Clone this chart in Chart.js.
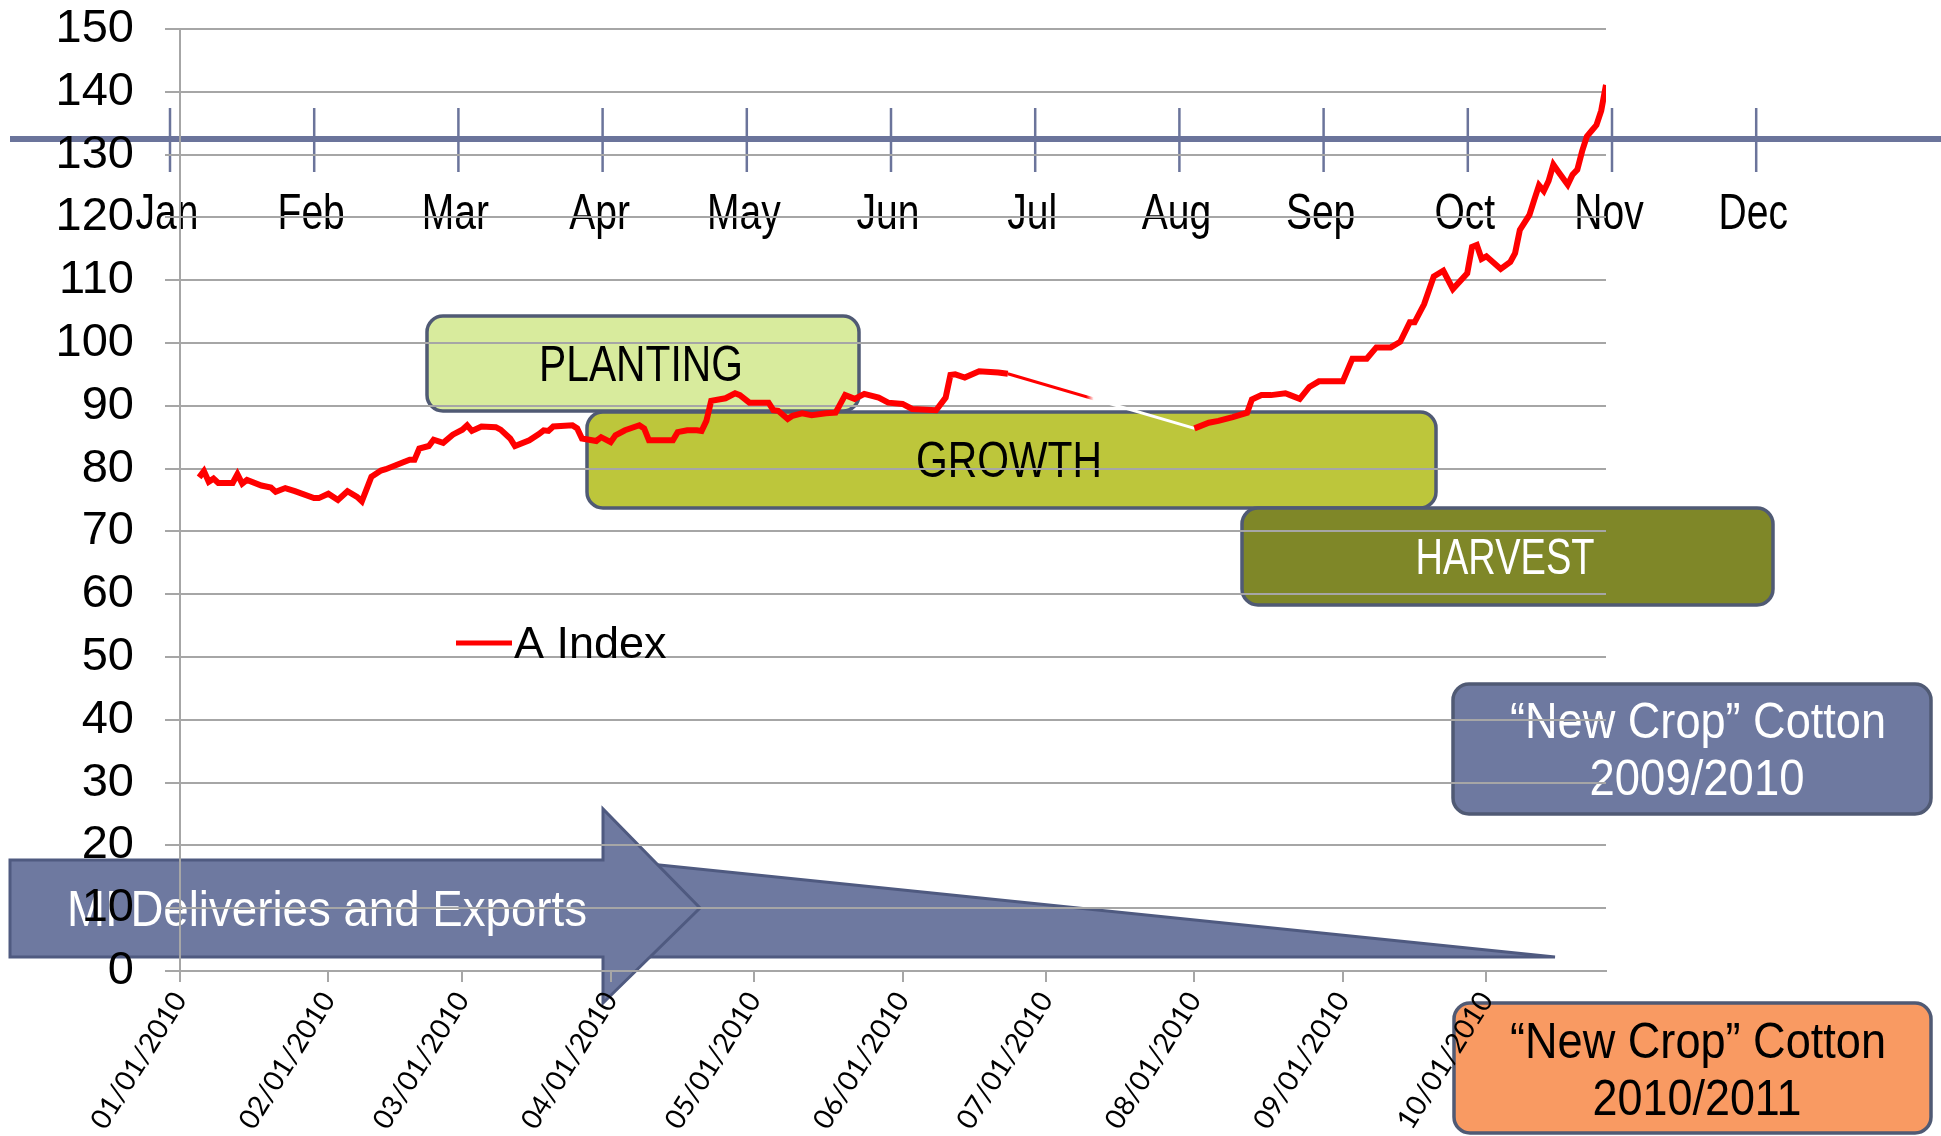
<!DOCTYPE html>
<html>
<head>
<meta charset="utf-8">
<script src="https://cdn.jsdelivr.net/npm/chart.js@4.4.1/dist/chart.umd.min.js"></script>
<style>
  html, body { margin: 0; padding: 0; background: #fff; }
  #wrap { width: 1941px; height: 1136px; position: relative; }
</style>
</head>
<body>
<div id="wrap"><canvas id="myChart"></canvas></div>
<script>
// A Index, x = days counted from 01/01/2010
const days = [
  4, 5, 6, 7, 8, 11, 12, 13, 14, 17, 19, 20, 22, 24, 28, 29, 31, 33, 35, 37,
  38, 40, 42, 43, 46, 48, 49, 50, 52, 53, 55, 57, 59, 60, 61, 63, 66, 67, 69, 70,
  73, 75, 76, 77, 78, 82, 83, 84, 87, 88, 90, 91, 93, 96, 97, 98, 103, 104, 106, 108,
  109, 110, 111, 114, 116, 117, 119, 123, 124, 125, 127, 128, 130, 132, 135, 137, 138, 139, 141, 143,
  146, 148, 151, 153, 158, 160, 161, 162, 164, 167, 171, 173,
  212, 215, 217, 220, 223, 224, 226, 228, 231, 232, 234, 236, 238, 243, 245, 248, 250, 253,
  255, 257, 258, 260, 262, 264, 266, 269, 270, 271, 272, 273, 276, 278, 279, 280, 282, 283,
  284, 285, 286, 287, 288, 290, 291, 292, 293, 294, 295, 296, 297, 298
];
const aIndex = [
  78.6, 79.6, 77.9, 78.4, 77.7, 77.7, 79.1, 77.6, 78.2, 77.3, 77.0, 76.3, 76.9, 76.4, 75.3, 75.3, 76.0, 75.0, 76.4, 75.5,
  74.8, 78.7, 79.7, 79.9, 80.8, 81.4, 81.4, 83.2, 83.6, 84.6, 84.1, 85.4, 86.2, 86.9, 86.0, 86.7, 86.6, 86.2, 84.8, 83.6,
  84.5, 85.5, 86.1, 86.0, 86.7, 86.9, 86.4, 84.8, 84.4, 85.0, 84.2, 85.3, 86.1, 86.9, 86.4, 84.5, 84.5, 85.8, 86.1, 86.1,
  86.0, 87.6, 90.8, 91.2, 92.0, 91.7, 90.5, 90.5, 89.3, 89.2, 87.9, 88.4, 88.8, 88.5, 88.8, 88.9, 90.3, 91.7, 91.1, 91.9,
  91.3, 90.5, 90.3, 89.5, 89.3, 91.3, 94.9, 95.0, 94.5, 95.5, 95.3, 95.1,
  86.4, 87.3, 87.6, 88.2, 88.9, 91.0, 91.7, 91.7, 92.0, 91.7, 91.1, 93.0, 93.9, 93.9, 97.5, 97.5, 99.3, 99.3,
  100.2, 103.3, 103.3, 106.2, 110.6, 111.5, 108.6, 111.1, 115.3, 115.6, 113.4, 113.8, 111.8, 112.9, 114.3, 118.0, 120.4, 122.8,
  125.1, 124.2, 125.8, 128.4, 127.3, 125.2, 126.8, 127.6, 130.5, 132.9, 133.8, 134.7, 137.0, 141.1
];

const tickDays = [0, 31, 59, 90, 120, 151, 181, 212, 243, 273];
const tickLabels = ['01/01/2010', '02/01/2010', '03/01/2010', '04/01/2010', '05/01/2010',
  '06/01/2010', '07/01/2010', '08/01/2010', '09/01/2010', '10/01/2010'];

const timelineMonths = ['Jan', 'Feb', 'Mar', 'Apr', 'May', 'Jun', 'Jul', 'Aug', 'Sep', 'Oct', 'Nov', 'Dec'];

const SANS = '"Liberation Sans", Arial, sans-serif';
const BORDER = '#505a74';
const SLATE = '#6e79a0';

const canvas = document.getElementById('myChart');
const ctx2d = canvas.getContext('2d');

// text squeezed to the width it has in the picture
function fitText(ctx, text, cx, baseline, width, font, color) {
  ctx.save();
  ctx.font = font;
  ctx.fillStyle = color;
  ctx.textAlign = 'center';
  ctx.textBaseline = 'alphabetic';
  const w = ctx.measureText(text).width;
  ctx.translate(cx, baseline);
  ctx.scale(width / w, 1);
  ctx.fillText(text, 0, 0);
  ctx.restore();
}

function roundBox(ctx, x1, y1, x2, y2, fill) {
  const r = 16;
  ctx.beginPath();
  ctx.moveTo(x1 + r, y1);
  ctx.arcTo(x2, y1, x2, y2, r);
  ctx.arcTo(x2, y2, x1, y2, r);
  ctx.arcTo(x1, y2, x1, y1, r);
  ctx.arcTo(x1, y1, x2, y1, r);
  ctx.closePath();
  ctx.fillStyle = fill;
  ctx.fill();
  ctx.lineWidth = 3.5;
  ctx.strokeStyle = BORDER;
  ctx.stroke();
}

function poly(ctx, pts, fill, stroke) {
  ctx.beginPath();
  pts.forEach((p, i) => i ? ctx.lineTo(p[0], p[1]) : ctx.moveTo(p[0], p[1]));
  ctx.closePath();
  ctx.fillStyle = fill;
  ctx.fill();
  ctx.lineWidth = 3;
  ctx.strokeStyle = stroke;
  ctx.lineJoin = 'miter';
  ctx.stroke();
}

const overlays = {
  id: 'overlays',
  beforeDraw(chart) {
    const ctx = chart.ctx;
    ctx.save();
    ctx.fillStyle = '#fff';
    ctx.fillRect(0, 0, chart.width, chart.height);

    // crop phases
    roundBox(ctx, 427, 316, 859, 411, '#d8eb9d');
    roundBox(ctx, 587, 412, 1436, 508, '#bdc63b');
    roundBox(ctx, 1242, 508, 1773, 605, '#7f8728');
    const big = '50px ' + SANS;
    fitText(ctx, 'PLANTING', 641, 381, 204, big, '#000');
    fitText(ctx, 'GROWTH', 1009, 477, 186, big, '#000');
    fitText(ctx, 'HARVEST', 1505, 574, 179, big, '#fff');

    // crop year boxes
    roundBox(ctx, 1453, 684, 1931, 814, SLATE);
    fitText(ctx, '\u201cNew Crop\u201d Cotton', 1698, 738, 376, big, '#fff');
    fitText(ctx, '2009/2010', 1697, 795, 215, big, '#fff');
    roundBox(ctx, 1454, 1003, 1931, 1133, '#f99a62');
    fitText(ctx, '\u201cNew Crop\u201d Cotton', 1698, 1058, 376, big, '#000');
    fitText(ctx, '2010/2011', 1697, 1115, 209, big, '#000');

    // deliveries arrow
    poly(ctx, [[640, 863], [1555, 957], [640, 957]], SLATE, '#4f5a80');
    poly(ctx, [[10, 860], [603, 860], [603, 809], [700, 908], [603, 1003], [603, 957], [10, 957]], SLATE, '#4f5a80');
    fitText(ctx, 'MI Deliveries and Exports', 327, 926, 520, big, '#fff');

    // month timeline
    ctx.fillStyle = '#6b749b';
    ctx.fillRect(10, 136, 1931, 6);
    ctx.strokeStyle = '#6b749b';
    ctx.lineWidth = 2.5;
    timelineMonths.forEach((m, i) => {
      const x = 170 + i * 144.2;
      ctx.beginPath();
      ctx.moveTo(x, 108);
      ctx.lineTo(x, 172);
      ctx.stroke();
      ctx.save();
      ctx.font = '50px ' + SANS;
      ctx.fillStyle = '#000';
      ctx.textAlign = 'center';
      ctx.translate(x - 3, 229);
      ctx.scale(0.78, 1);
      ctx.fillText(m, 0, 0);
      ctx.restore();
    });
    ctx.restore();
  },
  afterDraw(chart) {
    // legend inside the plot
    const ctx = chart.ctx;
    const ds = chart.data.datasets[0];
    ctx.save();
    ctx.strokeStyle = ds.borderColor;
    ctx.lineWidth = 5;
    ctx.beginPath();
    ctx.moveTo(456, 643);
    ctx.lineTo(512, 643);
    ctx.stroke();
    ctx.fillStyle = '#000';
    ctx.font = '45px ' + SANS;
    ctx.textBaseline = 'alphabetic';
    ctx.textAlign = 'left';
    ctx.fillText(ds.label, 514, 658);
    ctx.restore();
  }
};

function isGap(c) {
  return days[c.p1DataIndex] - days[c.p0DataIndex] > 20;
}

function gapGradient(c) {
  const g = ctx2d.createLinearGradient(c.p0.x, 0, c.p1.x, 0);
  g.addColorStop(0, '#ff0000');
  g.addColorStop(0.42, '#ff0000');
  g.addColorStop(0.46, 'rgba(255,0,0,0)');
  g.addColorStop(0.52, 'rgba(255,255,255,0)');
  g.addColorStop(0.55, '#ffffff');
  g.addColorStop(1, '#ffffff');
  return g;
}

const chart = new Chart(ctx2d, {
  type: 'line',
  data: {
    datasets: [{
      label: 'A Index',
      data: days.map((d, i) => ({ x: d, y: aIndex[i] })),
      borderColor: '#ff0000',
      borderWidth: 6,
      pointRadius: 0,
      tension: 0,
      segment: {
        borderColor: c => isGap(c) ? gapGradient(c) : undefined,
        borderWidth: c => isGap(c) ? 3 : undefined
      }
    }]
  },
  options: {
    responsive: true,
    maintainAspectRatio: false,
    devicePixelRatio: 1,
    animation: false,
    layout: { padding: { top: 29, right: 335, bottom: 0, left: 0 } },
    plugins: { legend: { display: false }, tooltip: { enabled: false } },
    scales: {
      x: {
        type: 'linear',
        min: 0,
        max: 298,
        afterBuildTicks: scale => { scale.ticks = tickDays.map(v => ({ value: v })); },
        afterFit: scale => { scale.height = 165; scale.paddingLeft = 0; scale.paddingRight = 0; },
        grid: { drawOnChartArea: false, drawTicks: true, tickLength: 11, color: '#a6a6a6', lineWidth: 2 },
        border: { color: '#a6a6a6', width: 2 },
        ticks: {
          autoSkip: false,
          minRotation: 58,
          maxRotation: 58,
          padding: 4,
          color: '#000',
          font: { family: 'Lato, "Open Sans", sans-serif', size: 28 },
          callback: v => tickLabels[tickDays.indexOf(v)]
        }
      },
      y: {
        min: 0,
        max: 150,
        afterFit: scale => { scale.width = 180; scale.paddingTop = 0; scale.paddingBottom = 0; },
        grid: { color: '#a6a6a6', lineWidth: 2, tickLength: 15 },
        border: { color: '#a6a6a6', width: 2 },
        ticks: {
          stepSize: 10,
          padding: 31,
          color: '#000',
          font: { family: SANS, size: 47 }
        }
      }
    }
  },
  plugins: [overlays]
});
</script>
</body>
</html>
